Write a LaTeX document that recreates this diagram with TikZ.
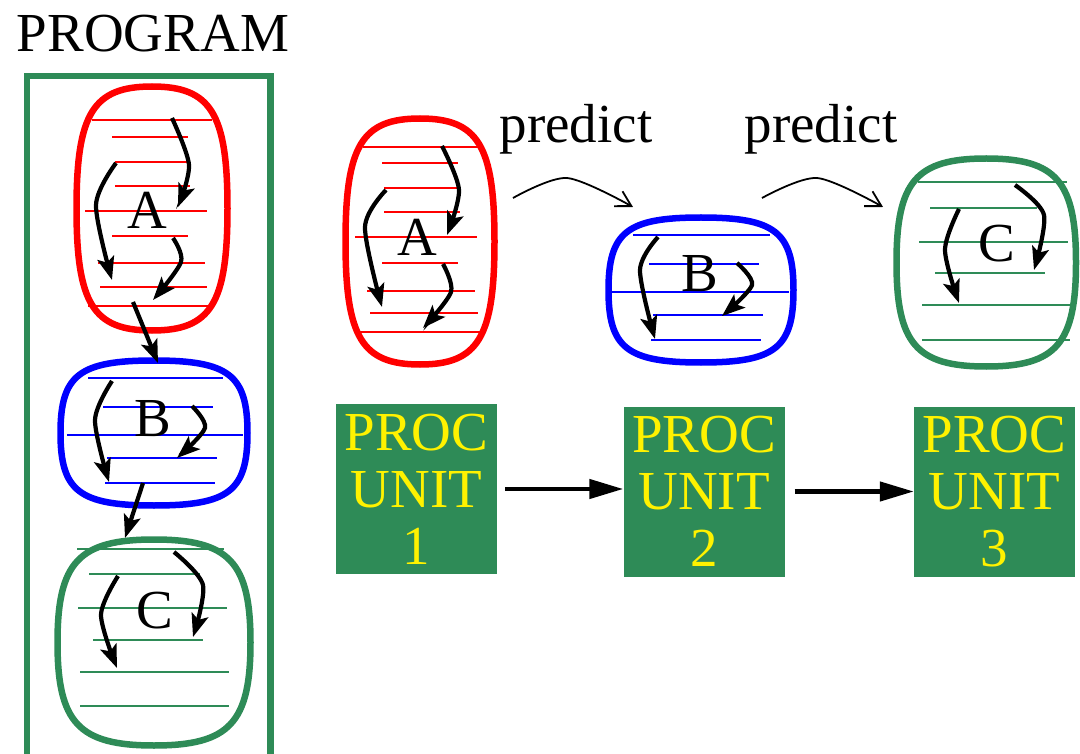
\documentclass[tikz,border=0pt]{standalone}
\usepackage{fontspec}
\setmainfont{Liberation Serif}
\usetikzlibrary{arrows.meta,calc}
\definecolor{seagreen}{RGB}{46,139,87}
\newcommand\drawblob[3]{% node name, colour, squareness
  \draw[line width=6.5pt, draw=#2]
    (#1.north) .. controls ($(#1.north)!#3!(#1.north east)$) and ($(#1.east)!#3!(#1.north east)$) .. (#1.east)
    .. controls ($(#1.east)!#3!(#1.south east)$) and ($(#1.south)!#3!(#1.south east)$) .. (#1.south)
    .. controls ($(#1.south)!#3!(#1.south west)$) and ($(#1.west)!#3!(#1.south west)$) .. (#1.west)
    .. controls ($(#1.west)!#3!(#1.north west)$) and ($(#1.north)!#3!(#1.north west)$) .. (#1.north) -- cycle;}
\begin{document}
\begin{tikzpicture}[x=1pt,y=-1pt,
  bigtext/.style={font=\fontsize{55}{57}\selectfont},
  blobarea/.style={inner sep=0pt, outer sep=0pt},
  hatch/.style={draw=#1, line width=2pt},
  flow/.style={line width=4.2pt, -{Stealth[length=23pt,width=17pt,inset=5pt]}},
  predictarrow/.style={line width=1.8pt, -{Straight Barb[length=15pt,width=17pt]}},
  procbox/.style={fill=seagreen, text=yellow, minimum width=161pt, minimum height=170pt, inner sep=0pt, align=center, bigtext},
  procarrow/.style={line width=4.5pt, -{Triangle[length=34pt,width=19pt]}},
  letter/.style={bigtext, anchor=base, inner sep=0pt}]
\useasboundingbox (0,0) rectangle (1080,754);

% PROGRAM box
\node[bigtext, anchor=base, inner sep=0pt] (title) at (153,52) {PROGRAM};
\node[draw=seagreen, line width=6.5pt, minimum width=243.5pt, minimum height=681pt, inner sep=0pt] (program) at (148.75,416.5) {};

% hatch lines
\foreach \y/\a/\b in {120/92/212, 137/112/188, 162/115/190, 186/115/190, 211/85/207, 236/112/188, 263/98/205, 287/100/207, 306/88/210,
                      147/363/478, 163/382/458, 188/384/460, 212/384/460, 237/355/477, 263/382/458, 291/367/475, 313/370/478, 332/360/480}
  \draw[hatch=red] (\a,\y) -- (\b,\y);
\foreach \y/\a/\b in {378/88/223, 407/103/213, 435/67/243, 458/107/217, 483/105/215,
                      235/633/770, 264/649/759, 292/612/789, 315/653/763, 340/651/761}
  \draw[hatch=blue] (\a,\y) -- (\b,\y);
\foreach \y/\a/\b in {549/77/224, 574/89/200, 608/78/227, 640/93/203, 672/80/229, 706/80/229,
                      182/918/1067, 208/930/1037, 242/919/1068, 273/935/1045, 305/922/1070, 340/922/1070}
  \draw[hatch=seagreen] (\a,\y) -- (\b,\y);

% blobs
\node[blobarea, minimum width=151pt, minimum height=244pt] (lA) at (152,208.5) {};
\node[blobarea, minimum width=187pt, minimum height=145pt] (lB) at (154,433) {};
\node[blobarea, minimum width=193pt, minimum height=206pt] (lC) at (154,642.5) {};
\node[blobarea, minimum width=149pt, minimum height=246pt] (rA) at (420,241.5) {};
\node[blobarea, minimum width=185pt, minimum height=145pt] (rB) at (701,290) {};
\node[blobarea, minimum width=179.5pt, minimum height=208pt] (rC) at (986.25,262.5) {};
\drawblob{lA}{red}{0.78}
\drawblob{lB}{blue}{0.8}
\drawblob{lC}{seagreen}{0.78}
\drawblob{rA}{red}{0.78}
\drawblob{rB}{blue}{0.8}
\drawblob{rC}{seagreen}{0.78}

% letters
\node[letter] (tlA) at (147,229) {A};
\node[letter] (tlB) at (153,436) {B};
\node[letter] (tlC) at (155,628) {C};
\node[letter] (trA) at (417,256) {A};
\node[letter] (trB) at (700,292) {B};
\node[letter] (trC) at (997,262) {C};

% flow arrows, left column
\draw[flow] plot[smooth] coordinates {(172,118) (189,165) (178,207)};
\draw[flow] plot[smooth] coordinates {(116,163) (96,205) (112,280)};
\draw[flow] plot[smooth] coordinates {(173,238) (181,262) (153,300)};
\draw[flow] (133,302) -- (158,363);
\draw[flow] plot[smooth] coordinates {(112,381) (95,420) (109,482)};
\draw[flow] plot[smooth] coordinates {(192,406) (205,428) (177,458)};
\draw[flow] (143,483) -- (125,538);
\draw[flow] plot[smooth] coordinates {(118,576) (101,615) (117,668)};
\draw[flow] plot[smooth] coordinates {(174,552) (203,585) (193,637)};

% flow arrows, right blobs
\draw[flow] plot[smooth] coordinates {(442,146) (459,190) (447,235)};
\draw[flow] plot[smooth] coordinates {(386,190) (365,227) (382,307)};
\draw[flow] plot[smooth] coordinates {(443,264) (451,292) (423,328)};
\draw[flow] plot[smooth] coordinates {(658,237) (640,270) (655,339)};
\draw[flow] plot[smooth] coordinates {(737,263) (752,285) (722,316)};
\draw[flow] plot[smooth] coordinates {(959,209) (945,250) (959,303)};
\draw[flow] plot[smooth] coordinates {(1015,185) (1044,215) (1034,270)};

% predict
\node[letter] (p1) at (576,143) {predict};
\node[letter] (p2) at (821,143) {predict};
\draw[predictarrow] plot[smooth] coordinates {(513,198) (567,178) (633,207)};
\draw[predictarrow] plot[smooth] coordinates {(762,198) (817,178) (883,207)};

% processing units
\node[procbox] (u1) at (416.5,489) {PROC\\UNIT\\1};
\node[procbox] (u2) at (704,491.5) {PROC\\UNIT\\2};
\node[procbox] (u3) at (994.5,491.5) {PROC\\UNIT\\3};
\draw[procarrow] ([xshift=8pt]u1.east) -- (u2.west |- u1.east);
\draw[procarrow] ([xshift=10pt]u2.east) -- (u3.west);
\end{tikzpicture}
\end{document}
